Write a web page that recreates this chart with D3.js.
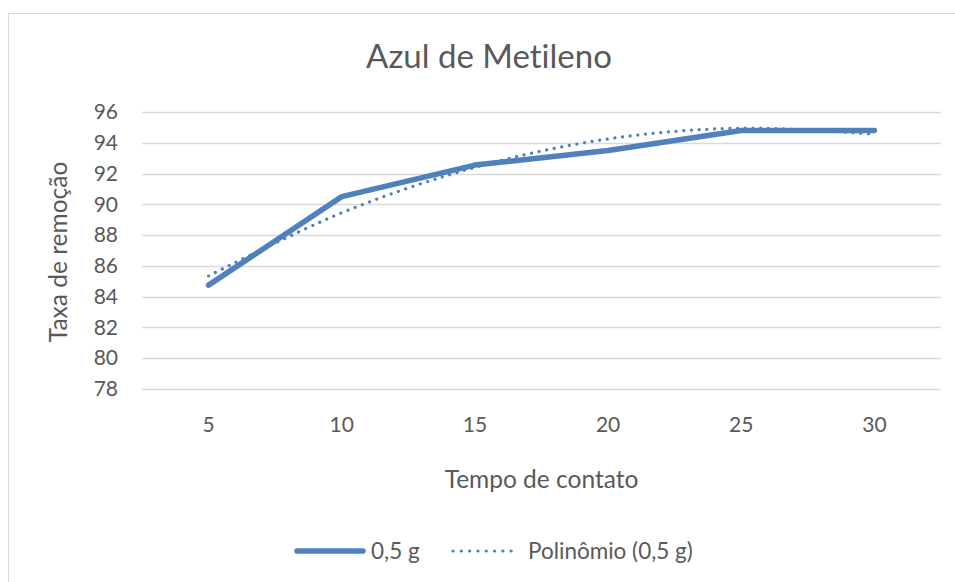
<!DOCTYPE html>
<html>
<head>
<meta charset="utf-8">
<script src="https://cdn.jsdelivr.net/npm/d3@7"></script>
<style>
  html, body { margin: 0; padding: 0; background: #fff; }
  svg text { font-family: Lato, "Open Sans", sans-serif; fill: #595959; font-variant-ligatures: none; font-feature-settings: "liga" 0; }
</style>
</head>
<body>
<svg id="chart" width="955" height="582"></svg>
<script>
// Azul de Metileno — taxa de remoção vs tempo de contato, with polynomial trend

const categories = ['5', '10', '15', '20', '25', '30'];
const seriesValues = [84.75, 90.5, 92.55, 93.5, 94.8, 94.8];     // 0,5 g
const trendValues  = [85.35, 89.45, 92.4, 94.25, 94.95, 94.55];  // Polinômio (0,5 g)
const yTicks = [78, 80, 82, 84, 86, 88, 90, 92, 94, 96];

const blue = '#4F81BD';
const grid = '#D9D9D9';

const svg = d3.select('#chart');

// chart area border (runs off the right/bottom edge)
svg.append('rect')
    .attr('x', 8.5).attr('y', 13.5)
    .attr('width', 990).attr('height', 600)
    .attr('fill', '#fff').attr('stroke', grid).attr('stroke-width', 1);

const plot = { left: 142, right: 941, top: 112, bottom: 389 };

const x = d3.scaleBand().domain(categories).range([plot.left, plot.right]);
const y = d3.scaleLinear().domain([78, 96]).range([plot.bottom, plot.top]);
const cx = d => x(d) + x.bandwidth() / 2;

// gridlines
svg.append('g').selectAll('line').data(yTicks).enter().append('line')
    .attr('x1', plot.left).attr('x2', plot.right)
    .attr('y1', d => Math.round(y(d)) + 0.5).attr('y2', d => Math.round(y(d)) + 0.5)
    .attr('stroke', grid).attr('stroke-width', 1.5);

// y axis labels
svg.append('g')
    .attr('transform', `translate(${plot.left - 24},0)`)
    .call(d3.axisLeft(y).tickValues(yTicks).tickSize(0).tickPadding(0))
    .call(g => g.select('.domain').remove())
    .selectAll('text')
    .attr('font-size', '21px')
    .attr('font-family', 'Lato, sans-serif')
    .attr('fill', '#595959');

// x axis labels
svg.append('g')
    .attr('transform', `translate(0,${plot.bottom})`)
    .call(d3.axisBottom(x).tickSize(0).tickPadding(28))
    .call(g => g.select('.domain').remove())
    .selectAll('text')
    .attr('font-size', '21px')
    .attr('font-family', 'Lato, sans-serif')
    .attr('fill', '#595959');

// trendline (dotted)
const trendLine = d3.line()
    .x((d, i) => cx(categories[i]))
    .y(d => y(d))
    .curve(d3.curveCardinal.tension(0));

svg.append('path')
    .datum(trendValues)
    .attr('d', trendLine)
    .attr('fill', 'none')
    .attr('stroke', blue)
    .attr('stroke-width', 3.2)
    .attr('stroke-linecap', 'round')
    .attr('stroke-dasharray', '0.1 7.6');

// main series
const mainLine = d3.line()
    .x((d, i) => cx(categories[i]))
    .y(d => y(d));

svg.append('path')
    .datum(seriesValues)
    .attr('d', mainLine)
    .attr('fill', 'none')
    .attr('stroke', blue)
    .attr('stroke-width', 5.5)
    .attr('stroke-linecap', 'round')
    .attr('stroke-linejoin', 'round');

// title
svg.append('text')
    .attr('x', 489).attr('y', 68)
    .attr('text-anchor', 'middle')
    .attr('font-size', '33px')
    .text('Azul de Metileno');

// axis titles
svg.append('text')
    .attr('x', (plot.left + plot.right) / 2).attr('y', 488)
    .attr('text-anchor', 'middle')
    .attr('font-size', '24.5px')
    .text('Tempo de contato');

svg.append('text')
    .attr('transform', `translate(67,252) rotate(-90)`)
    .attr('text-anchor', 'middle')
    .attr('font-size', '24.5px')
    .text('Taxa de remoção');

// legend
const legend = svg.append('g');
legend.append('line')
    .attr('x1', 297).attr('x2', 363).attr('y1', 551).attr('y2', 551)
    .attr('stroke', blue).attr('stroke-width', 5.5).attr('stroke-linecap', 'round');
legend.append('text')
    .attr('x', 371).attr('y', 559)
    .attr('font-size', '22.5px')
    .text('0,5 g');
legend.append('line')
    .attr('x1', 453).attr('x2', 519).attr('y1', 551).attr('y2', 551)
    .attr('stroke', blue).attr('stroke-width', 3.2)
    .attr('stroke-linecap', 'round').attr('stroke-dasharray', '0.1 8.2');
legend.append('text')
    .attr('x', 528).attr('y', 559)
    .attr('font-size', '22.5px')
    .text('Polinômio (0,5 g)');
</script>
</body>
</html>
